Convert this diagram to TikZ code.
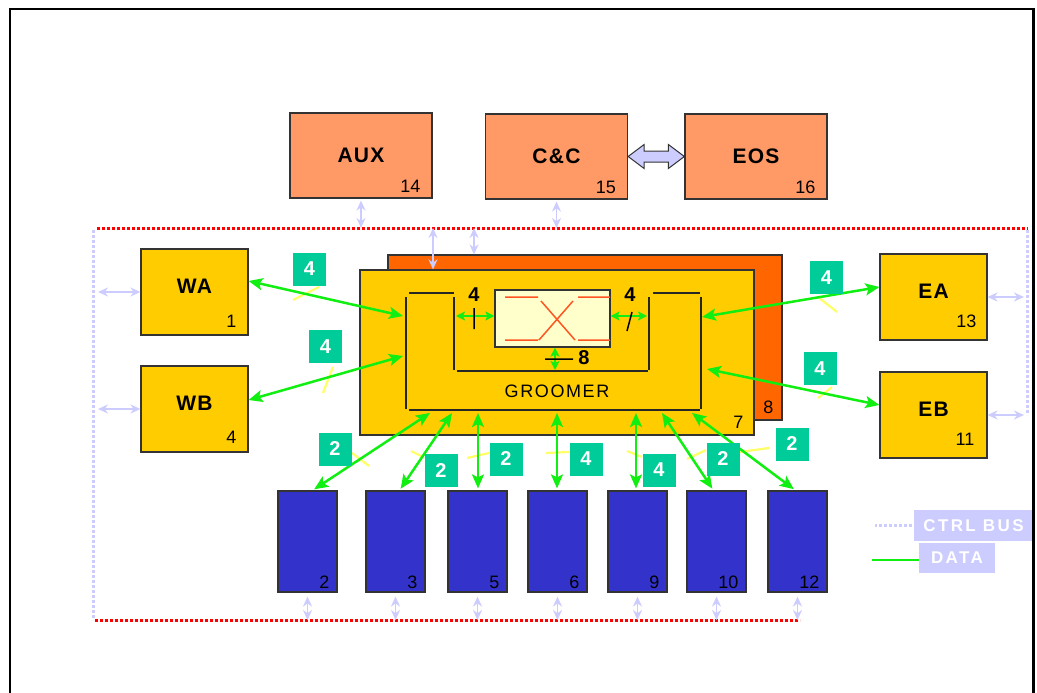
\documentclass[tikz,border=0pt]{standalone}
\usepackage{fontspec}
\setmainfont{Liberation Sans}
\newfontfamily\wide[LetterSpace=6]{Liberation Sans}
\newfontfamily\wider[LetterSpace=9]{Liberation Sans}
\newfontfamily\widest[LetterSpace=14]{Liberation Sans}
\usetikzlibrary{arrows.meta,calc}

\definecolor{topfill}{HTML}{FF9966}
\definecolor{unitfill}{HTML}{FFCC00}
\definecolor{backfill}{HTML}{FF6600}
\definecolor{portfill}{HTML}{3333CC}
\definecolor{tagfill}{HTML}{00CC99}
\definecolor{datagreen}{HTML}{11EE11}
\definecolor{ctrlblue}{HTML}{CCCCFF}
\definecolor{tickyellow}{HTML}{FFFF66}
\definecolor{xbarfill}{HTML}{FFFFCC}
\definecolor{xbarline}{HTML}{FF5522}
\definecolor{edge}{HTML}{333333}

\begin{document}
\begin{tikzpicture}[x=1pt,y=-1pt,
    box/.style={draw=edge,line width=1.2pt,inner sep=0pt},
    topbox/.style={box,fill=topfill,minimum width=142pt,minimum height=85pt,font=\wide\bfseries\fontsize{21}{21}\selectfont},
    sidebox/.style={box,fill=unitfill,minimum width=107pt,minimum height=86pt,text depth=12pt,font=\wide\bfseries\fontsize{21}{21}\selectfont},
    portbox/.style={box,fill=portfill,minimum width=59pt,minimum height=101pt},
    num/.style={anchor=base east,inner sep=0pt,font=\fontsize{18}{18}\selectfont},
    bit/.style={inner sep=0pt,font=\bfseries\fontsize{20}{20}\selectfont},
    tag/.style={fill=tagfill,text=white,minimum size=33pt,inner sep=0pt,font=\bfseries\fontsize{20}{20}\selectfont},
    keybox/.style={fill=ctrlblue,text=white,inner sep=0pt,font=\widest\bfseries\fontsize{17}{17}\selectfont},
    data/.style={datagreen,line width=2.5pt,{Stealth[length=14pt,width=12pt,inset=3pt]}-{Stealth[length=14pt,width=12pt,inset=3pt]}},
    link/.style={datagreen,line width=2pt,{Stealth[length=9pt,width=9pt,inset=2pt]}-{Stealth[length=9pt,width=9pt,inset=2pt]}},
    ctrl/.style={ctrlblue,line width=1.8pt,{Stealth[length=10pt,width=9pt]}-{Stealth[length=10pt,width=9pt]}},
    redbus/.style={red,line width=3pt,dash pattern=on 3pt off 2pt},
    ctrlbus/.style={ctrlblue,line width=3pt,dash pattern=on 3pt off 2pt},
    lanemark/.style={tickyellow,line width=2.2pt}]
  \useasboundingbox (0,0) rectangle (1037,693);

  \node[topbox] (aux) at (361,155.5) {AUX};
  \node[topbox] (cc) at (556.5,156.5) {C\&C};
  \node[topbox] (eos) at (756,156.5) {EOS};
  \node[num] (n14) at ([xshift=-12pt,yshift=6pt]aux.south east) {14};
  \node[num] (n15) at ([xshift=-12pt,yshift=6pt]cc.south east) {15};
  \node[num] (n16) at ([xshift=-12pt,yshift=6pt]eos.south east) {16};
  \draw[edge,fill=ctrlblue,line width=1pt]
    (cc.east) -- ++(16,-12) -- ++(0,6.5) -- ($(eos.west)+(-16,-5.5)$) -- ++(0,-6.5)
    -- (eos.west) -- ++(-16,12) -- ++(0,-6.5) -- ($(cc.east)+(16,5.5)$) -- ++(0,6.5) -- cycle;

  \coordinate (topbus) at (97,228);
  \coordinate (lowbus) at (95,620);
  \coordinate (leftbus) at (93,230);
  \coordinate (rightbus) at (1027,230);
  \draw[ctrlbus] (leftbus) -- (93,620);
  \draw[ctrlbus] (rightbus) -- (1027,415);
  \draw[redbus] (topbus) -- (1028,228);
  \draw[redbus] (lowbus) -- (800,620);

  \node[box,fill=backfill,minimum width=394pt,minimum height=165pt] (grmback) at (585,337.5) {};
  \node[num] (n8) at ([xshift=-9pt,yshift=7pt]grmback.south east) {8};
  \node[box,fill=unitfill,minimum width=394pt,minimum height=165pt] (grm) at (557,352.5) {};
  \node[num] (n7) at ([xshift=-11pt,yshift=7pt]grm.south east) {7};
  \draw[line width=1.5pt,black!85]
    (409,293) -- (454,293) (406,297) -- (406,409) (454,297) -- (454,370)
    (457,371) -- (648,371) (649,297) -- (649,370) (653,293) -- (700,293)
    (701,297) -- (701,409) (409,410) -- (700,410);
  \node[font=\wider\fontsize{18}{18}\selectfont] (grmtxt) at (557,391) {GROOMER};

  \node[box,fill=xbarfill,minimum width=115pt,minimum height=57pt] (xbar) at (552.5,318.5) {};
  \draw[xbarline,line width=1.5pt]
    (505,297) -- (538,297) (505,340) -- (538,340)
    (578,297) -- (610,297) (578,340) -- (610,340)
    (541,301) -- (575,340) (573,301) -- (539,340);
  \coordinate (uL) at (456,316);
  \coordinate (uR) at (647,316);
  \coordinate (uB) at (555,370);
  \draw[link] (uL) -- (uL -| xbar.west);
  \draw[link] (uR -| xbar.east) -- (uR);
  \draw[link] (uB |- xbar.south) -- (uB);
  \draw[line width=1.5pt] (474,308) -- (474,329) (627,331) -- (632,312) (545,359) -- (573,359);
  \node[bit] (b4l) at (474,295) {4};
  \node[bit] (b4r) at (630,295) {4};
  \node[bit] (b8) at (584,358) {8};

  \coordinate (g1) at (433,228);
  \coordinate (g2) at (474,228);
  \draw[ctrl,shorten <=2pt] (aux.south) -- (aux.south |- topbus);
  \draw[ctrl,shorten <=2pt] (cc.south) -- (cc.south |- topbus);
  \draw[ctrl] (g1) -- (g1 |- grm.north);
  \draw[ctrl] (g2) -- (g2 |- grmback.north);

  \node[sidebox] (wa) at (194.5,292) {WA};
  \node[sidebox] (wb) at (194.5,409) {WB};
  \node[sidebox] (ea) at (933.5,297) {EA};
  \node[sidebox] (eb) at (933.5,415) {EB};
  \node[num] (n1) at ([xshift=-12pt,yshift=8pt]wa.south east) {1};
  \node[num] (n4) at ([xshift=-12pt,yshift=9pt]wb.south east) {4};
  \node[num] (n13) at ([xshift=-11pt,yshift=13pt]ea.south east) {13};
  \node[num] (n11) at ([xshift=-13pt,yshift=13pt]eb.south east) {11};
  \draw[ctrl,shorten >=5pt] (wa.west) -- (wa.west -| leftbus);
  \draw[ctrl,shorten >=5pt] (wb.west) -- (wb.west -| leftbus);
  \draw[ctrl,shorten >=3pt] (ea.east) -- (ea.east -| rightbus);
  \draw[ctrl,shorten >=3pt] (eb.east) -- (eb.east -| rightbus);

  \node[portbox] (p2) at (307.5,541.5) {};
  \node[portbox] (p3) at (395.5,541.5) {};
  \node[portbox] (p5) at (477.5,541.5) {};
  \node[portbox] (p6) at (557.5,541.5) {};
  \node[portbox] (p9) at (637.5,541.5) {};
  \node[portbox] (p10) at (716.5,541.5) {};
  \node[portbox] (p12) at (797.5,541.5) {};
  \node[num] (n2) at ([xshift=-8pt,yshift=4pt]p2.south east) {2};
  \node[num] (n3) at ([xshift=-8pt,yshift=4pt]p3.south east) {3};
  \node[num] (n5) at ([xshift=-8pt,yshift=4pt]p5.south east) {5};
  \node[num] (n6) at ([xshift=-8pt,yshift=4pt]p6.south east) {6};
  \node[num] (n9) at ([xshift=-8pt,yshift=4pt]p9.south east) {9};
  \node[num] (n10) at ([xshift=-8pt,yshift=4pt]p10.south east) {10};
  \node[num] (n12) at ([xshift=-8pt,yshift=4pt]p12.south east) {12};
  \draw[ctrl,shorten <=4pt] (p2.south) -- (p2.south |- lowbus);
  \draw[ctrl,shorten <=4pt] (p3.south) -- (p3.south |- lowbus);
  \draw[ctrl,shorten <=4pt] (p5.south) -- (p5.south |- lowbus);
  \draw[ctrl,shorten <=4pt] (p6.south) -- (p6.south |- lowbus);
  \draw[ctrl,shorten <=4pt] (p9.south) -- (p9.south |- lowbus);
  \draw[ctrl,shorten <=4pt] (p10.south) -- (p10.south |- lowbus);
  \draw[ctrl,shorten <=4pt] (p12.south) -- (p12.south |- lowbus);

  \draw[lanemark] (293,300) -- (319,287) (323,393) -- (333,367)
    (818,297) -- (837,312) (818,398) -- (832,387)
    (352,453) -- (369,466) (411,451) -- (423,457) (467,458) -- (489,453)
    (546,453) -- (569,452) (627,451) -- (642,457) (687,459) -- (706,450)
    (740,452) -- (769,448);

  \coordinate (gw1) at (403,316);
  \coordinate (gw2) at (403,356);
  \coordinate (ge1) at (702,317);
  \coordinate (ge2) at (707,369);
  \draw[data] ([yshift=11pt]wa.east) -- (gw1);
  \draw[data] ([yshift=9pt]wb.east) -- (gw2);
  \draw[data] (ge1) -- ([yshift=10pt]ea.west);
  \draw[data] (ge2) -- ([yshift=10pt]eb.west);

  \coordinate (gs2) at (430,413);
  \coordinate (gs3) at (452,413);
  \coordinate (gs5) at (478,413);
  \coordinate (gs6) at (557,413);
  \coordinate (gs9) at (636,413);
  \coordinate (gs10) at (662,413);
  \coordinate (gs12) at (692,413);
  \draw[data,shorten >=2pt] (gs2) -- ([xshift=5pt]p2.north);
  \draw[data,shorten >=2pt] (gs3) -- ([xshift=4pt]p3.north);
  \draw[data,shorten >=2pt] (gs5) -- (p5.north -| gs5);
  \draw[data,shorten >=2pt] (gs6) -- (p6.north -| gs6);
  \draw[data,shorten >=2pt] (gs9) -- (p9.north -| gs9);
  \draw[data,shorten >=2pt] (gs10) -- ([xshift=-3pt]p10.north);
  \draw[data,shorten >=2pt] (gs12) -- ([xshift=-2pt]p12.north);

  \node[tag] (twa) at (309.5,269) {4};
  \node[tag] (twb) at (325.5,346.5) {4};
  \node[tag] (tea) at (826.5,277.5) {4};
  \node[tag] (teb) at (820,368.5) {4};
  \node[tag] (tp2) at (335,449) {2};
  \node[tag] (tp3) at (441,470.5) {2};
  \node[tag] (tp5) at (506,459) {2};
  \node[tag] (tp6) at (586,459) {4};
  \node[tag] (tp9) at (659,470) {4};
  \node[tag] (tp10) at (723,459) {2};
  \node[tag] (tp12) at (792,444) {2};

  \node[keybox,minimum width=119pt,minimum height=31pt] (ctrlkey) at (973.5,525.5) {CTRL BUS};
  \node[keybox,minimum width=76pt,minimum height=30pt] (datakey) at (957,558) {DATA};
  \draw[ctrlblue,line width=2.5pt,dash pattern=on 3pt off 2pt] ([xshift=-2pt]ctrlkey.west) -- ++(-37,0);
  \draw[datagreen,line width=2.5pt] ([yshift=-2pt]datakey.west) -- ++(-47,0);

  \draw[line width=2pt] (10,700) -- (10,9) -- (1033,9);
  \draw[line width=3pt] (1033,8) -- (1033,700);
\end{tikzpicture}
\end{document}
